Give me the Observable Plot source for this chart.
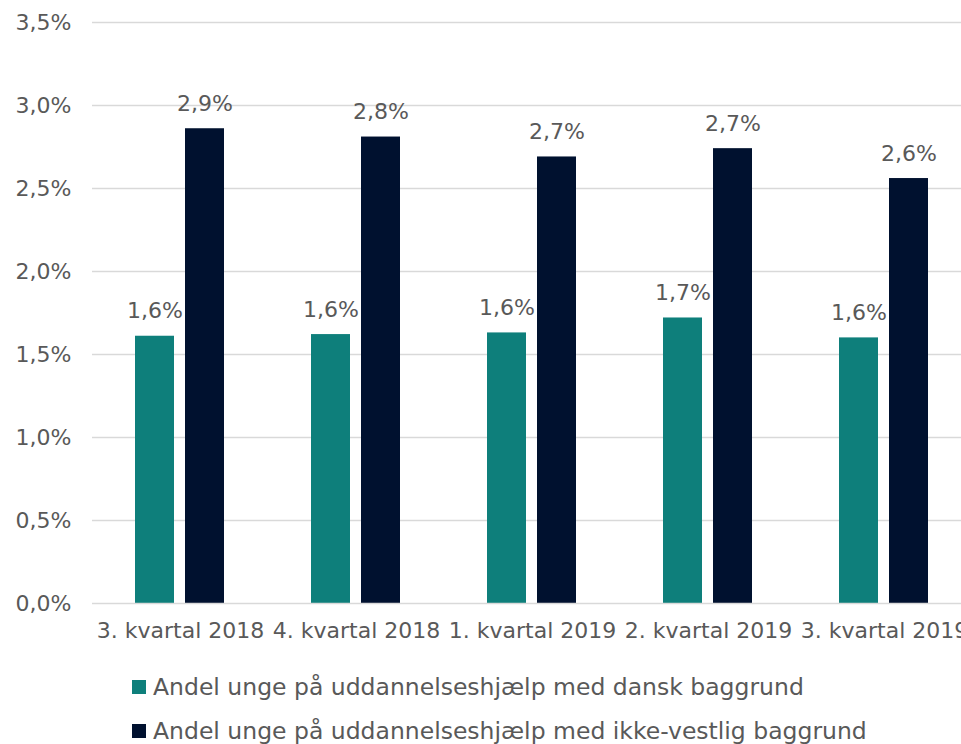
<!DOCTYPE html>
<html>
<head>
<meta charset="utf-8">
<script src="https://cdn.jsdelivr.net/npm/d3@7"></script>
<script src="https://cdn.jsdelivr.net/npm/@observablehq/plot@0.6"></script>
<style>
  html, body { margin: 0; padding: 0; background: #fff; }
  #wrap { width: 961px; height: 744px; overflow: hidden; position: relative; font-family: "DejaVu Sans", sans-serif; color: #595959; }
  #wrap svg { max-width: none !important; }
  .legend { position: absolute; left: 132px; font-size: 23.5px; line-height: 30px; height: 30px; display: flex; align-items: center; white-space: nowrap; }
  .legend .sw { width: 14px; height: 14px; margin-right: 7px; display: inline-block; }
</style>
</head>
<body>
<div id="wrap"></div>
<script>
const quarters = ["3. kvartal 2018", "4. kvartal 2018", "1. kvartal 2019", "2. kvartal 2019", "3. kvartal 2019"];
const seriesNames = ["Andel unge på uddannelseshjælp med dansk baggrund", "Andel unge på uddannelseshjælp med ikke-vestlig baggrund"];
const dansk = [1.61, 1.62, 1.63, 1.72, 1.60];
const ikkeVestlig = [2.86, 2.81, 2.69, 2.74, 2.56];
const yTicks = [0, 0.5, 1, 1.5, 2, 2.5, 3, 3.5];
const colors = ["#0E7F7B", "#00112F"];

const data = [];
quarters.forEach((q, i) => {
  data.push({quarter: q, series: seriesNames[0], value: dansk[i]});
  data.push({quarter: q, series: seriesNames[1], value: ikkeVestlig[i]});
});
const fmt = v => v.toFixed(1).replace(".", ",") + "%";

const chart = Plot.plot({
  width: 975,
  height: 650,
  marginLeft: 91,
  marginRight: 3,
  marginTop: 22,
  marginBottom: 47,
  style: {fontFamily: "'DejaVu Sans', sans-serif", fontSize: "22px", color: "#595959", background: "transparent", maxWidth: "none"},
  fx: {domain: quarters, padding: 0, label: null, axis: "bottom", tickSize: 0, tickPadding: 19},
  x: {domain: seriesNames, paddingInner: 0.216, paddingOuter: 0.836, axis: null},
  y: {domain: [0, 3.5], ticks: yTicks, tickFormat: fmt, tickSize: 0, tickPadding: 21, label: null},
  color: {domain: seriesNames, range: colors},
  marks: [
    Plot.ruleY(yTicks.filter(d => d > 0), {stroke: "#d9d9d9", strokeWidth: 1.4}),
    Plot.barY(data, {fx: "quarter", x: "series", y: "value", fill: "series"}),
    Plot.ruleY([0], {stroke: "#d9d9d9", strokeWidth: 1.6}),
    Plot.text(data, {fx: "quarter", x: "series", y: "value", text: d => fmt(d.value), lineAnchor: "bottom", dy: -18, fill: "#595959", fontSize: 22})
  ]
});
chart.style.maxWidth = "none";
const wrap = document.getElementById("wrap");
wrap.appendChild(chart);

const tops = [672, 716];
seriesNames.forEach((s, i) => {
  const div = document.createElement("div");
  div.className = "legend";
  div.style.top = tops[i] + "px";
  div.innerHTML = `<span class="sw" style="background:${colors[i]}"></span><span>${s}</span>`;
  wrap.appendChild(div);
});
</script>
</body>
</html>
